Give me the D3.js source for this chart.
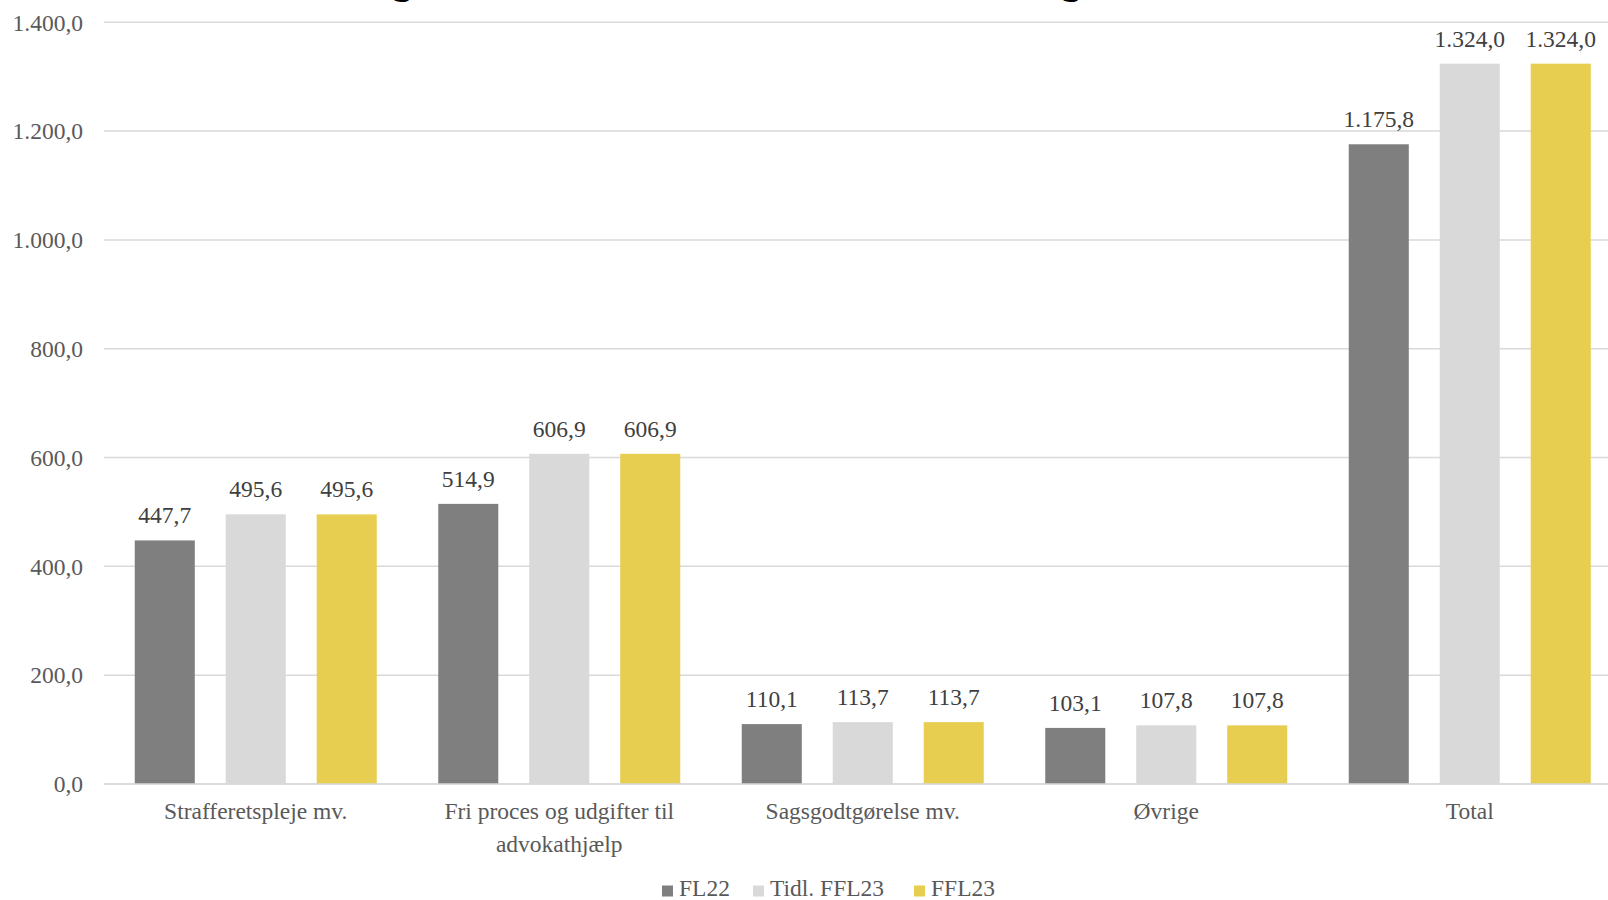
<!DOCTYPE html>
<html><head><meta charset="utf-8">
<script src="https://cdn.jsdelivr.net/npm/d3@7"></script>
<style>html,body{margin:0;padding:0;background:#fff;overflow:hidden}</style>
</head><body>
<svg id="chart" width="1608" height="900"></svg>
<script>
const categories = ["Strafferetspleje mv.", "Fri proces og udgifter til advokathjælp", "Sagsgodtgørelse mv.", "Øvrige", "Total"];
const categoryLines = [["Strafferetspleje mv."], ["Fri proces og udgifter til", "advokathjælp"], ["Sagsgodtgørelse mv."], ["Øvrige"], ["Total"]];
const seriesNames = ["FL22", "Tidl. FFL23", "FFL23"];
const fl22 = [447.7, 514.9, 110.1, 103.1, 1175.8];
const tidlFfl23 = [495.6, 606.9, 113.7, 107.8, 1324.0];
const ffl23 = [495.6, 606.9, 113.7, 107.8, 1324.0];
const yTicks = [0, 200, 400, 600, 800, 1000, 1200, 1400];
const colors = ["#7f7f7f", "#d9d9d9", "#e7ce50"];

(function () {
const seriesValues = [fl22, tidlFfl23, ffl23];
const loc = d3.formatLocale({decimal: ",", thousands: ".", grouping: [3], currency: ["", ""]});
const fmt = loc.format(",.1f");

const svg = d3.select("#chart");
const font = "'Liberation Serif', 'Times New Roman', serif";
const textColor = "#595959";

const pLeft = 104, pRight = 1621.5, pTop = 22.3, pBottom = 784;
const x0 = d3.scaleBand().domain(categories).range([pLeft, pRight]).paddingInner(0).paddingOuter(0);
const groupW = 242;
const x1 = d3.scaleBand().domain(seriesNames).range([0, groupW]).paddingInner(0.34).paddingOuter(0);
const y = d3.scaleLinear().domain([0, 1400]).range([pBottom, pTop]);

// title fragment cut off at top (only descenders visible in the reference)
svg.append("g").selectAll("text").data([402, 1071]).join("text")
  .attr("x", d => d).attr("y", -7).attr("text-anchor", "middle")
  .attr("font-family", font).attr("font-weight", "bold").attr("font-size", 40)
  .attr("fill", "#000").text("g");

// gridlines
svg.append("g").selectAll("line").data(yTicks).join("line")
  .attr("x1", pLeft).attr("x2", 1608)
  .attr("y1", d => y(d)).attr("y2", d => y(d))
  .attr("stroke", "#d9d9d9").attr("stroke-width", 1.5);

// y axis labels
const yAxis = d3.axisLeft(y).tickValues(yTicks).tickFormat(d => fmt(d)).tickSize(0).tickPadding(21);
const ya = svg.append("g").attr("transform", `translate(${pLeft},0)`).call(yAxis);
ya.select(".domain").remove();
ya.selectAll("text").attr("font-family", font).attr("font-size", 23.5).attr("fill", textColor).attr("dy", "0.33em");

// bars
const groups = svg.append("g").selectAll("g").data(categories).join("g")
  .attr("transform", d => `translate(${x0(d) + (x0.bandwidth() - groupW) / 2},0)`);
groups.each(function(cat, ci) {
  const g = d3.select(this);
  seriesNames.forEach((s, si) => {
    const v = seriesValues[si][ci];
    g.append("rect").attr("x", x1(s)).attr("width", x1.bandwidth())
      .attr("y", y(v)).attr("height", y(0) - y(v)).attr("fill", colors[si]);
    g.append("text").attr("x", x1(s) + x1.bandwidth() / 2).attr("y", y(v) - 17)
      .attr("text-anchor", "middle").attr("font-family", font).attr("font-size", 23.5)
      .attr("fill", "#404040").text(fmt(v));
  });
});

// x axis line
svg.append("line").attr("x1", pLeft).attr("x2", 1608).attr("y1", y(0)).attr("y2", y(0))
  .attr("stroke", "#d9d9d9").attr("stroke-width", 1.5);

// category labels
categories.forEach((c, i) => {
  const cx = x0(c) + x0.bandwidth() / 2;
  const t = svg.append("text").attr("x", cx).attr("y", 819)
    .attr("text-anchor", "middle").attr("font-family", font).attr("font-size", 23.5).attr("fill", textColor);
  categoryLines[i].forEach((ln, li) => {
    t.append("tspan").attr("x", cx).attr("dy", li === 0 ? 0 : 32.5).text(ln);
  });
});

// legend
const legendX = [662, 753, 914];
const lg = svg.append("g");
seriesNames.forEach((s, i) => {
  lg.append("rect").attr("x", legendX[i]).attr("y", 885.5).attr("width", 11).attr("height", 11).attr("fill", colors[i]);
  lg.append("text").attr("x", legendX[i] + 17).attr("y", 896).attr("font-family", font).attr("font-size", 23.5)
    .attr("fill", textColor).text(s);
});
})();
</script>
</body></html>
